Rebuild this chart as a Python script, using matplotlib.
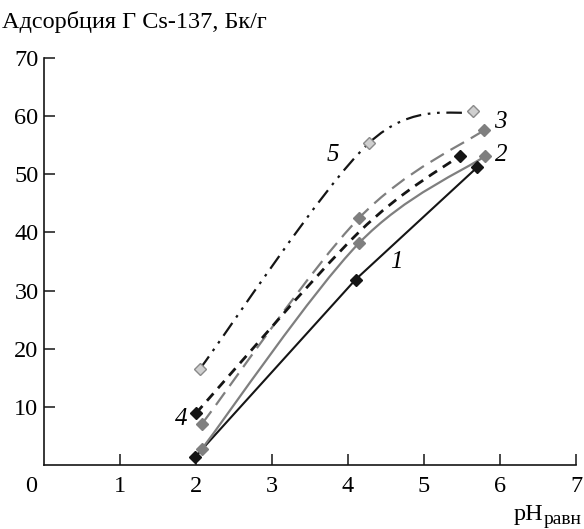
import numpy as np
import matplotlib
matplotlib.use('Agg')
import matplotlib.pyplot as plt
from matplotlib.path import Path
from matplotlib.patches import PathPatch

plt.rcParams['font.family'] = ['Liberation Serif', 'DejaVu Serif']

# данные (pH, адсорбция)
x1 = [1.99, 4.10, 5.70]
y1 = [1.4, 31.9, 51.2]
x2 = [2.08, 4.14, 5.80]
y2 = [2.8, 38.1, 53.1]
x3 = [2.08, 4.14, 5.79]
y3 = [7.1, 42.4, 57.6]
x4 = [2.00, 4.14, 5.47]
y4 = [8.9, 40.0, 53.2]
x5 = [2.05, 4.27, 5.65]
y5 = [16.5, 55.3, 60.8]
labels = ['1', '2', '3', '4', '5']
xticks = [1, 2, 3, 4, 5, 6, 7]
yticks = [10, 20, 30, 40, 50, 60, 70]

BLACK = '#151515'
GRAY = '#7f7f7f'
LGRAY = '#cfcfcf'
FS = 17.5


def smooth_path(xs, ys):
    # сглаженная линия как в Excel (кривые Безье)
    p = np.column_stack([xs, ys])
    n = len(p)
    verts = [p[0]]
    codes = [Path.MOVETO]
    for i in range(n - 1):
        p0 = p[i - 1] if i > 0 else p[i]
        p3 = p[i + 2] if i + 2 < n else p[i + 1]
        c1 = p[i] + (p[i + 1] - p0) / 6
        c2 = p[i + 1] - (p3 - p[i]) / 6
        verts += [c1, c2, p[i + 1]]
        codes += [Path.CURVE4] * 3
    return Path(verts, codes)


fig = plt.figure(figsize=(5.84, 5.29), dpi=100)
ax = fig.add_axes([44 / 584, 1 - 465 / 529, 532 / 584, 407 / 529])

# 1 - сплошная черная
ax.plot(x1, y1, color=BLACK, lw=1.5, zorder=3)
ax.plot(x1, y1, 'D', color=BLACK, ms=5.8, zorder=5)

# 2 - сплошная серая
ax.add_patch(PathPatch(smooth_path(x2, y2), fill=False, ec=GRAY, lw=1.6, zorder=3))
ax.plot(x2, y2, 'D', color=GRAY, ms=5.8, zorder=5)

# 3 - длинный пунктир серый
ax.add_patch(PathPatch(smooth_path(x3, y3), fill=False, ec=GRAY, lw=1.6,
                       ls=(0, (7, 3.5)), zorder=3))
ax.plot(x3, y3, 'D', color=GRAY, ms=5.8, zorder=5)

# 4 - пунктир черный
ax.add_patch(PathPatch(smooth_path(x4, y4), fill=False, ec=BLACK, lw=2.0,
                       ls=(0, (3.5, 2.5)), zorder=3))
ax.plot([x4[0], x4[-1]], [y4[0], y4[-1]], 'D', color=BLACK, ms=5.8, zorder=5)

# 5 - штрих-пунктир
ax.add_patch(PathPatch(smooth_path(x5, y5), fill=False, ec=BLACK, lw=1.6,
                       ls=(0, (7, 3, 1.2, 3, 1.2, 3)), zorder=3))
ax.plot(x5, y5, 'D', mfc=LGRAY, mec='#8a8a8a', mew=1.0, ms=5.8, zorder=5)

# подписи кривых
lab_x = [4.64, 6.02, 6.01, 1.80, 3.80]
lab_y = [35.0, 53.4, 59.0, 7.9, 53.3]
for t, lx, ly in zip(labels, lab_x, lab_y):
    ax.text(lx, ly, t, fontsize=18, style='italic', ha='center', va='center')

ax.set_xlim(0, 7)
ax.set_ylim(0, 70)
ax.set_xticks(xticks)
ax.set_yticks(yticks)
ax.tick_params(direction='in', length=8, width=1.1, labelsize=FS, color=BLACK)
ax.tick_params(axis='x', pad=8)
ax.tick_params(axis='y', pad=4)
for s in ['top', 'right']:
    ax.spines[s].set_visible(False)
for s in ['left', 'bottom']:
    ax.spines[s].set_linewidth(1.2)
    ax.spines[s].set_color(BLACK)

fig.text(31 / 584, 1 - 486 / 529, '0', fontsize=FS, ha='center', va='center')
fig.text(2 / 584, 1 - 28 / 529, 'Адсорбция Г Cs-137, Бк/г', fontsize=FS,
         ha='left', va='baseline')

# подпись оси x: pH с индексом
sub = fig.text(582 / 584, 1 - 524 / 529, 'равн', fontsize=14, ha='right', va='baseline')
fig.canvas.draw()
bb = sub.get_window_extent()
fig.text((bb.x0 - 1) / 584, 1 - 520 / 529, 'pH', fontsize=FS, ha='right', va='baseline')

fig.savefig('out.png', dpi=100)
